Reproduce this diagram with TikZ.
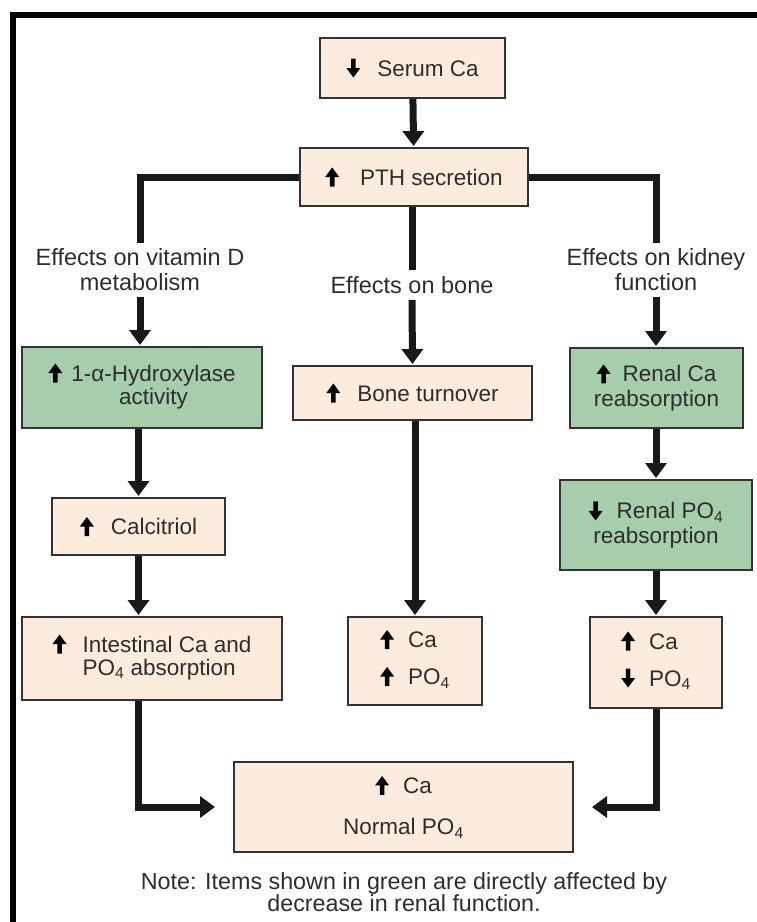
\documentclass[tikz,border=0pt]{standalone}
\usepackage{fontspec}
\setmainfont{Liberation Sans}
\usetikzlibrary{arrows.meta}
\definecolor{beige}{RGB}{252,236,221}
\definecolor{greenbox}{RGB}{166,205,172}
\definecolor{txt}{RGB}{45,45,45}
\newcommand{\UpA}{\tikz[x=1pt,y=1pt,baseline=0pt]\fill[black] (-2.3,-1.5) -- (2.3,-1.5) -- (2.3,8) -- (7,8) -- (0,17.5) -- (-7,8) -- (-2.3,8) -- cycle;}
\newcommand{\DnA}{\tikz[x=1pt,y=1pt,baseline=0pt]\fill[black] (-2.3,17.5) -- (2.3,17.5) -- (2.3,8) -- (7,8) -- (0,-1.5) -- (-7,8) -- (-2.3,8) -- cycle;}
\newcommand{\POf}{PO\textsubscript{4}}
\begin{document}
\begin{tikzpicture}[x=1pt,y=-1pt,
  box/.style={draw=black!80, line width=2pt, fill=beige, inner sep=0pt, text=txt,
    font=\fontsize{22.5}{25}\selectfont},
  gbox/.style={box, fill=greenbox},
  lab/.style={text=txt, font=\fontsize{23.5}{25}\selectfont, align=center, inner sep=6pt},
  conn/.style={line width=7pt, draw=black!90},
  arr/.style={conn, -{Triangle[width=21pt,length=15pt]}, shorten >=1pt},
]
\useasboundingbox (0,0) rectangle (757,922);
% frame
\draw[line width=6pt] (13,922) -- (13,15) -- (757,15);

% boxes
\node[box, minimum width=185pt, minimum height=60pt] (serum) at (412.5,68) {\DnA\hspace{17pt}Serum Ca};
\node[box, minimum width=228pt, minimum height=58pt] (pth) at (414,177) {\UpA\hspace{21pt}PTH secretion};

\node[lab] (vitlab) at (140,270) {Effects on vitamin D\\metabolism};
\node[lab] (bonelab) at (412,285) {Effects on bone};
\node[lab] (kidlab) at (656,270) {Effects on kidney\\function};

\node[gbox, minimum width=240pt, minimum height=81pt] (hyd) at (142,387.5)
  {\begin{tabular}{@{}c@{\hspace{9pt}}c@{}}\UpA & 1-α-Hydroxylase\\[-2pt] & activity\end{tabular}};
\node[box, minimum width=239pt, minimum height=54pt] (bone) at (412.5,393) {\UpA\hspace{17pt}Bone turnover};
\node[gbox, minimum width=173pt, minimum height=80pt, align=center] (renca) at (656.5,388)
  {\UpA\hspace{12pt}Renal Ca\\reabsorption};

\node[box, minimum width=173pt, minimum height=57pt] (calc) at (138.5,526.5) {\UpA\hspace{17pt}Calcitriol};
\node[gbox, minimum width=192pt, minimum height=90pt, align=center] (renpo) at (656,525)
  {\DnA\hspace{14pt}Renal \POf\\reabsorption};

\node[box, minimum width=260pt, minimum height=83pt] (intest) at (152,658.5)
  {\begin{tabular}{@{}c@{\hspace{16pt}}l@{}}\UpA & Intestinal Ca and\\[-2pt] & \POf{} absorption\end{tabular}};
\node[box, minimum width=134pt, minimum height=88pt] (midres) at (415,661)
  {\begin{tabular}{@{}c@{\hspace{14pt}}l@{}}\UpA & Ca\\[12pt] \UpA & \POf\end{tabular}};
\node[box, minimum width=132pt, minimum height=91pt] (rightres) at (656,662.5)
  {\begin{tabular}{@{}c@{\hspace{14pt}}l@{}}\UpA & Ca\\[12pt] \DnA & \POf\end{tabular}};

\node[box, minimum width=339pt, minimum height=90pt, align=center] (final) at (403.5,807)
  {\UpA\hspace{14pt}Ca\\[16pt]Normal \POf};

\node[lab, inner sep=0pt, font=\fontsize{23.3}{22}\selectfont] (note) at (404,892)
  {Note: Items shown in green are directly affected by\\decrease in renal function.};

% connectors
\draw[arr] (serum) -- (pth);
\draw[conn] (pth.west) -| (vitlab.north);
\draw[conn] (pth.east) -| (kidlab.north);
\draw[conn] (pth.south -| bonelab.north) -- (bonelab.north);
\draw[arr] (vitlab.south) -- (vitlab.south |- hyd.north);
\draw[arr] (bonelab.south) -- (bone.north);
\draw[arr] (kidlab.south) -- (kidlab.south |- renca.north);
\draw[arr] (hyd.south -| calc.north) -- (calc.north);
\draw[arr] (renca.south -| renpo.north) -- (renpo.north);
\draw[arr] (calc.south) -- (calc.south |- intest.north);
\draw[arr] (bone.south -| midres.north) -- (midres.north);
\draw[arr] (renpo.south) -- (renpo.south |- rightres.north);
\coordinate (lend) at ([xshift=-17pt]final.west);
\coordinate (rend) at ([xshift=17pt]final.east);
\draw[arr] (calc.south |- intest.south) |- (lend);
\draw[arr] (rightres.south) |- (rend);
\end{tikzpicture}
\end{document}
